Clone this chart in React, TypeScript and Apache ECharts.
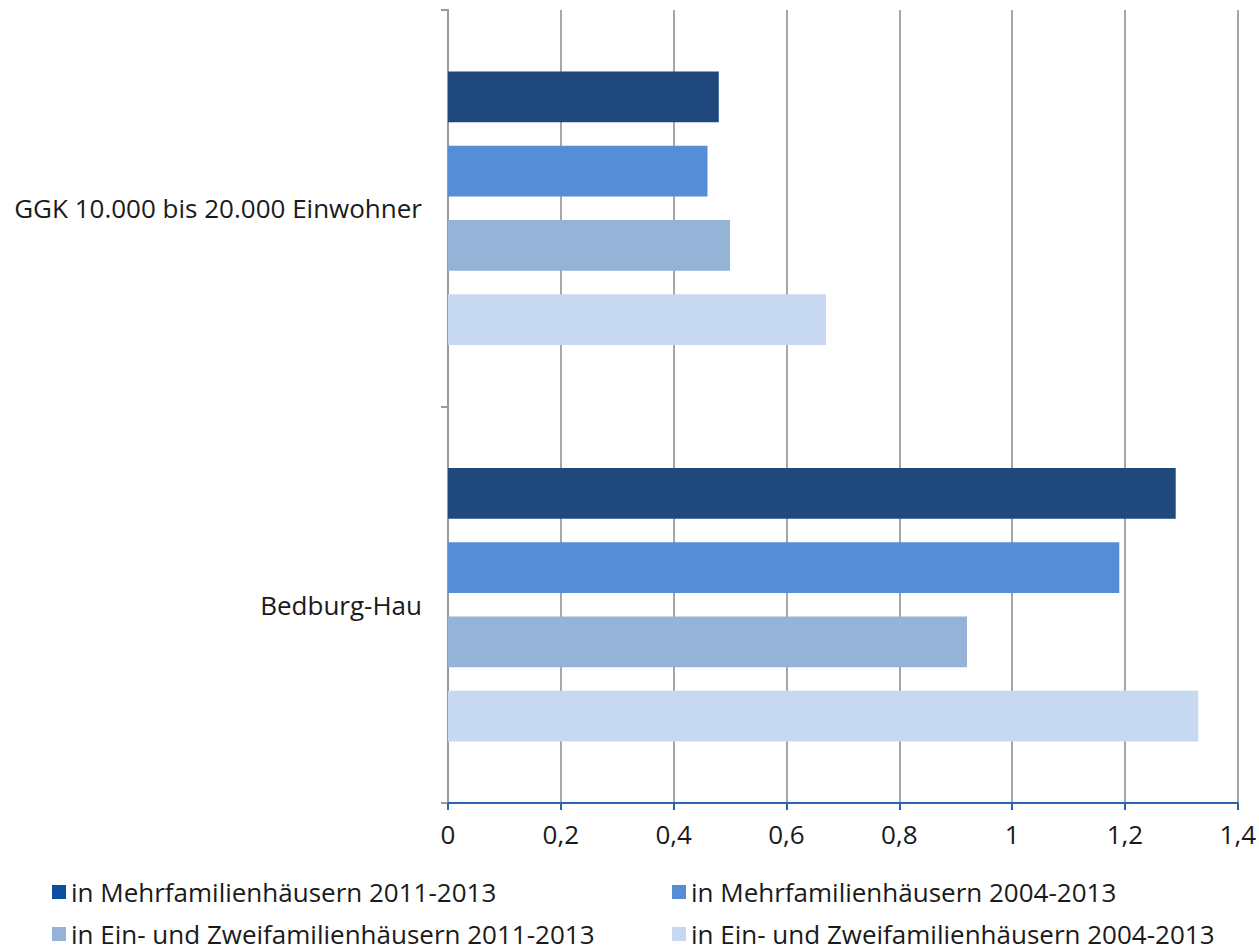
import React, { useEffect, useRef } from "react";
import * as echarts from "echarts";

const categories = ["GGK 10.000 bis 20.000 Einwohner", "Bedburg-Hau"];
const seriesNames = [
  "in Mehrfamilienhäusern 2011-2013",
  "in Mehrfamilienhäusern 2004-2013",
  "in Ein- und Zweifamilienhäusern 2011-2013",
  "in Ein- und Zweifamilienhäusern 2004-2013",
];
const mehr2011 = [0.48, 1.29];
const mehr2004 = [0.46, 1.19];
const einzwei2011 = [0.5, 0.92];
const einzwei2004 = [0.67, 1.33];
const colors = ["#1F497D", "#558ED5", "#95B3D7", "#C6D9F1"];
const legendColors = ["#0B4EA2", "#558ED5", "#95B3D7", "#C6D9F1"];

const FONT = "Open Sans";
const FS = 26;

export default function App() {
  const ref = useRef<HTMLDivElement>(null);
  useEffect(() => {
    if (!ref.current) return;
    const chart = echarts.init(ref.current, null, { renderer: "svg" });
    const values = [mehr2011, mehr2004, einzwei2011, einzwei2004];
    const legendPos: any[] = [
      { left: 52, top: 879 },
      { left: 672, top: 879 },
      { left: 52, top: 921 },
      { left: 672, top: 921 },
    ];
    chart.setOption({
      animation: false,
      grid: { left: 448, top: 10, right: 19, bottom: 143 },
      legend: legendPos.map((p, i) => ({
        ...p,
        padding: 0,
        itemWidth: 14,
        itemHeight: 14,
        icon: "rect",
        selectedMode: false,
        textStyle: { fontFamily: FONT, fontSize: FS, color: "#1a1a1a", lineHeight: 20 },
        data: [{ name: seriesNames[i], itemStyle: { color: legendColors[i] } }],
      })),
      xAxis: {
        type: "value",
        min: 0,
        max: 1.4,
        interval: 0.2,
        axisLine: { show: true, lineStyle: { color: "#2a63b0", width: 2 } },
        axisTick: { show: true, length: 7, lineStyle: { color: "#2a63b0", width: 2 } },
        splitLine: { show: true, lineStyle: { color: "#8a8a8a", width: 1.5 } },
        axisLabel: {
          margin: 21,
          fontFamily: FONT,
          fontSize: FS,
          lineHeight: 20,
          color: "#1a1a1a",
          formatter: (v: number) => String(Math.round(v * 10) / 10).replace(".", ","),
        },
      },
      yAxis: {
        type: "category",
        inverse: true,
        data: categories,
        axisLine: { show: true, lineStyle: { color: "#9a9a9a", width: 2 } },
        axisTick: { show: true, length: 7, lineStyle: { color: "#9a9a9a", width: 2 } },
        axisLabel: { margin: 26, fontFamily: FONT, fontSize: FS, color: "#1a1a1a" },
      },
      series: values.map((d, i) => ({
        type: "bar",
        name: seriesNames[i],
        data: d,
        barGap: "46%",
        barCategoryGap: "31%",
        itemStyle: { color: colors[i] },
      })),
    });
    return () => chart.dispose();
  }, []);
  return (
    <div
      ref={ref}
      style={{ position: "absolute", left: 0, top: 0, width: 1259, height: 946, overflow: "hidden" }}
    />
  );
}
